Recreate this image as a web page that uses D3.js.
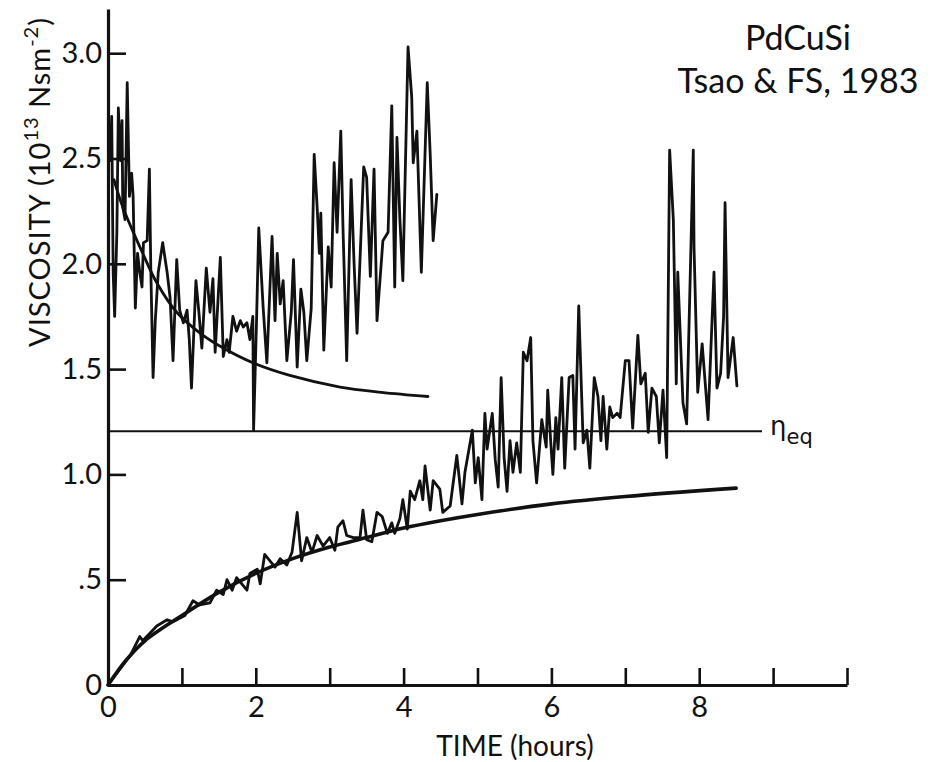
<!DOCTYPE html>
<html lang="en">
<head>
    <meta charset="UTF-8">
    <title>PdCuSi viscosity vs time</title>
    <script src="https://cdn.jsdelivr.net/npm/d3@7"></script>
    <style>
        body { margin: 0; background: #fff; }
        svg { display: block; }
        .axis path, .axis line { stroke: #111; }
        .axis text { font-family: Lato, "DejaVu Sans", sans-serif; fill: #111; }
        .trace { fill: none; stroke: #111; stroke-linejoin: round; stroke-linecap: round; }
    </style>
</head>
<body>
    <svg width="933" height="762"></svg>
    <script>
        // tick values and labels
        var xTicks = [0, 1, 2, 3, 4, 5, 6, 7, 8, 9, 10];
        var xTickLabels = ["0", "", "2", "", "4", "", "6", "", "8", "", ""];
        var yTicks = [0, 0.5, 1.0, 1.5, 2.0, 2.5, 3.0];
        var yTickLabels = ["0", ".5", "1.0", "1.5", "2.0", "2.5", "3.0"];

        var etaEq = 1.205;
        var etaEqEnd = 8.85;

        // upper run: measured viscosity [hours, 10^13 Nsm^-2]
        var upperRun = [
            [0.03, 2.49], [0.05, 2.70], [0.07, 1.96], [0.09, 1.75], [0.12, 2.15], [0.14, 2.74],
            [0.17, 2.49], [0.19, 2.68], [0.20, 2.27], [0.23, 2.21], [0.26, 2.86], [0.29, 2.32],
            [0.32, 2.43], [0.34, 2.32], [0.37, 1.79], [0.40, 2.05], [0.43, 1.96], [0.46, 1.89],
            [0.48, 2.10], [0.53, 2.11], [0.56, 2.45], [0.58, 1.96], [0.61, 1.46], [0.64, 1.73],
            [0.68, 1.96], [0.74, 2.10], [0.80, 1.96], [0.84, 1.84], [0.88, 1.54], [0.93, 2.02],
            [0.97, 1.78], [1.02, 1.72], [1.07, 1.78], [1.10, 1.64], [1.13, 1.41], [1.19, 1.92],
            [1.23, 1.77], [1.27, 1.60], [1.33, 1.98], [1.38, 1.77], [1.42, 1.93], [1.45, 1.58],
            [1.52, 2.03], [1.56, 1.56], [1.61, 1.64], [1.64, 1.58], [1.69, 1.75], [1.74, 1.68],
            [1.79, 1.73], [1.83, 1.70], [1.88, 1.72], [1.92, 1.64], [1.96, 1.75], [1.97, 1.21],
            [2.01, 1.73], [2.04, 2.17], [2.10, 1.79], [2.15, 1.53], [2.22, 2.13], [2.26, 1.73],
            [2.29, 2.05], [2.33, 1.81], [2.37, 1.92], [2.42, 1.54], [2.48, 1.77], [2.51, 2.02],
            [2.56, 1.51], [2.61, 1.88], [2.65, 1.77], [2.69, 1.54], [2.75, 1.79], [2.79, 2.52],
            [2.83, 2.27], [2.86, 2.05], [2.88, 2.24], [2.92, 1.59], [2.98, 2.08], [3.02, 1.89],
            [3.06, 2.48], [3.10, 2.15], [3.15, 2.63], [3.18, 2.17], [3.23, 1.54], [3.29, 2.40],
            [3.33, 2.00], [3.37, 1.67], [3.41, 2.02], [3.46, 2.46], [3.50, 2.41], [3.55, 1.94],
            [3.60, 2.45], [3.64, 1.73], [3.72, 2.11], [3.79, 2.15], [3.84, 2.75], [3.88, 1.89],
            [3.91, 2.60], [3.95, 2.21], [3.99, 1.92], [4.06, 3.03], [4.11, 2.79], [4.13, 2.48],
            [4.18, 2.63], [4.24, 1.96], [4.32, 2.86], [4.36, 2.52], [4.40, 2.11], [4.45, 2.33]
        ];

        // upper run: fitted relaxation curve
        var upperFit = [
            [0.08, 2.40], [0.20, 2.27], [0.47, 2.05], [0.66, 1.91], [0.93, 1.77], [1.25, 1.67],
            [1.56, 1.60], [1.96, 1.53], [2.46, 1.47], [3.14, 1.415], [3.70, 1.39], [4.33, 1.37]
        ];

        // lower run: measured viscosity
        var lowerRun = [
            [0.00, 0.00], [0.15, 0.07], [0.30, 0.14], [0.43, 0.23], [0.47, 0.21], [0.66, 0.28],
            [0.80, 0.31], [0.88, 0.30], [1.04, 0.33], [1.15, 0.40], [1.24, 0.38], [1.38, 0.39],
            [1.47, 0.45], [1.56, 0.43], [1.61, 0.50], [1.68, 0.45], [1.74, 0.51], [1.88, 0.45],
            [1.92, 0.53], [2.02, 0.55], [2.06, 0.48], [2.12, 0.62], [2.26, 0.56], [2.33, 0.60],
            [2.42, 0.57], [2.49, 0.63], [2.56, 0.82], [2.62, 0.59], [2.69, 0.70], [2.76, 0.63],
            [2.83, 0.71], [2.91, 0.66], [3.00, 0.70], [3.07, 0.64], [3.11, 0.75], [3.18, 0.78],
            [3.23, 0.71], [3.32, 0.70], [3.41, 0.70], [3.45, 0.83], [3.50, 0.69], [3.57, 0.68],
            [3.64, 0.82], [3.71, 0.80], [3.78, 0.72], [3.84, 0.77], [3.88, 0.72], [3.95, 0.79],
            [3.99, 0.88], [4.05, 0.74], [4.09, 0.92], [4.15, 0.88], [4.22, 0.97], [4.26, 0.88],
            [4.29, 1.04], [4.36, 0.83], [4.40, 0.97], [4.49, 0.93], [4.53, 0.82], [4.63, 0.85],
            [4.72, 1.09], [4.79, 0.86], [4.83, 1.01], [4.93, 1.21], [4.97, 0.96], [5.01, 1.08],
            [5.06, 0.88], [5.10, 1.29], [5.13, 1.12], [5.20, 1.29], [5.24, 1.07], [5.28, 0.94],
            [5.32, 1.46], [5.36, 1.08], [5.40, 0.92], [5.44, 1.16], [5.48, 1.01], [5.53, 1.15],
            [5.58, 1.01], [5.62, 1.58], [5.67, 1.54], [5.72, 1.65], [5.75, 1.16], [5.80, 0.96],
            [5.87, 1.26], [5.93, 1.13], [5.95, 1.40], [5.99, 1.16], [6.02, 1.00], [6.06, 1.27],
            [6.09, 1.12], [6.14, 1.46], [6.18, 1.03], [6.24, 1.46], [6.29, 1.47], [6.32, 1.12],
            [6.37, 1.80], [6.43, 1.15], [6.48, 1.21], [6.52, 1.03], [6.58, 1.46], [6.63, 1.37],
            [6.67, 1.16], [6.70, 1.37], [6.75, 1.12], [6.79, 1.32], [6.83, 1.27], [6.89, 1.29],
            [6.93, 1.27], [7.00, 1.54], [7.05, 1.54], [7.10, 1.22], [7.17, 1.66], [7.21, 1.43],
            [7.27, 1.48], [7.31, 1.20], [7.36, 1.41], [7.42, 1.37], [7.46, 1.15], [7.51, 1.40],
            [7.56, 1.08], [7.60, 2.54], [7.65, 2.21], [7.69, 1.43], [7.71, 1.96], [7.78, 1.34],
            [7.83, 1.24], [7.92, 2.54], [7.93, 2.08], [7.98, 1.39], [8.04, 1.62], [8.12, 1.26],
            [8.20, 1.96], [8.24, 1.41], [8.29, 1.48], [8.33, 1.75], [8.35, 2.29], [8.39, 1.46],
            [8.46, 1.65], [8.51, 1.42]
        ];

        // lower run: fitted curve
        var lowerFit = [
            [0.00, 0.00], [0.25, 0.12], [0.50, 0.21], [1.00, 0.33], [1.50, 0.44], [2.00, 0.53],
            [2.50, 0.60], [3.00, 0.655], [3.50, 0.70], [4.00, 0.745], [4.50, 0.78], [5.00, 0.81],
            [6.00, 0.86], [7.00, 0.895], [8.50, 0.935]
        ];

        var svg = d3.select("svg");

        var x = d3.scaleLinear().domain([0, 10]).range([108, 847]);
        var y = d3.scaleLinear().domain([0, 3.21]).range([685, 9]);

        var line = d3.line()
            .x(function(d) { return x(d[0]); })
            .y(function(d) { return y(d[1]); });
        var smooth = d3.line()
            .curve(d3.curveCatmullRom)
            .x(function(d) { return x(d[0]); })
            .y(function(d) { return y(d[1]); });

        // equilibrium viscosity line
        svg.append("line")
            .attr("x1", x(0)).attr("x2", x(etaEqEnd))
            .attr("y1", y(etaEq)).attr("y2", y(etaEq))
            .attr("stroke", "#111")
            .attr("stroke-width", 2);

        var eta = svg.append("text")
            .attr("x", x(etaEqEnd) + 8)
            .attr("y", y(etaEq) + 4)
            .attr("font-family", "'DejaVu Sans', sans-serif")
            .attr("font-size", "26px")
            .attr("fill", "#111");
        eta.append("tspan").text("\u03b7");
        eta.append("tspan").attr("dy", 9).attr("font-size", "21px").text("eq");

        svg.append("path").datum(upperRun).attr("class", "trace")
            .attr("stroke-width", 2.8).attr("d", line);
        svg.append("path").datum(upperFit).attr("class", "trace")
            .attr("stroke-width", 2.8).attr("d", smooth);
        svg.append("path").datum(lowerRun).attr("class", "trace")
            .attr("stroke-width", 2.8).attr("d", line);
        svg.append("path").datum(lowerFit).attr("class", "trace")
            .attr("stroke-width", 3.6).attr("d", smooth);

        // axes
        var yAxis = svg.append("g")
            .attr("class", "axis")
            .attr("transform", "translate(" + x(0) + ",0)")
            .call(d3.axisLeft(y)
                .tickValues(yTicks)
                .tickFormat(function(d, i) { return yTickLabels[i]; })
                .tickSizeInner(-18)
                .tickSizeOuter(0)
                .tickPadding(6));
        yAxis.select(".domain").attr("stroke-width", 3.2);
        yAxis.selectAll(".tick line").attr("stroke-width", 2.6);
        yAxis.selectAll(".tick text").attr("font-size", "29px");

        var xAxis = svg.append("g")
            .attr("class", "axis")
            .attr("transform", "translate(0," + y(0) + ")")
            .call(d3.axisBottom(x)
                .tickValues(xTicks)
                .tickFormat(function(d, i) { return xTickLabels[i]; })
                .tickSizeInner(-17)
                .tickSizeOuter(0)
                .tickPadding(11));
        xAxis.select(".domain").attr("stroke-width", 3.2);
        xAxis.selectAll(".tick line").attr("stroke-width", 2.6);
        xAxis.selectAll(".tick text").attr("font-size", "29px");

        // axis titles
        svg.append("text")
            .attr("x", 515)
            .attr("y", 756)
            .attr("text-anchor", "middle")
            .attr("font-family", "Lato, 'DejaVu Sans', sans-serif")
            .attr("font-size", "28px")
            .attr("fill", "#111")
            .text("TIME (hours)");

        var yt = svg.append("text")
            .attr("transform", "translate(50,182) rotate(-90)")
            .attr("text-anchor", "middle")
            .attr("font-family", "Lato, 'DejaVu Sans', sans-serif")
            .attr("font-size", "29px")
            .attr("letter-spacing", "1px")
            .attr("fill", "#111");
        yt.append("tspan").text("VISCOSITY (10");
        yt.append("tspan").attr("dy", -12).attr("font-size", "20px").text("13");
        yt.append("tspan").attr("dy", 12).text(" Nsm");
        yt.append("tspan").attr("dy", -12).attr("font-size", "20px").text("-2");
        yt.append("tspan").attr("dy", 12).text(")");

        // annotation
        var note = svg.append("text")
            .attr("text-anchor", "middle")
            .attr("font-family", "Lato, 'Open Sans', sans-serif")
            .attr("font-size", "34px")
            .attr("fill", "#111");
        note.append("tspan").attr("x", 798).attr("y", 50).text("PdCuSi");
        note.append("tspan").attr("x", 798).attr("y", 93).text("Tsao & FS,  1983");
    </script>
</body>
</html>
